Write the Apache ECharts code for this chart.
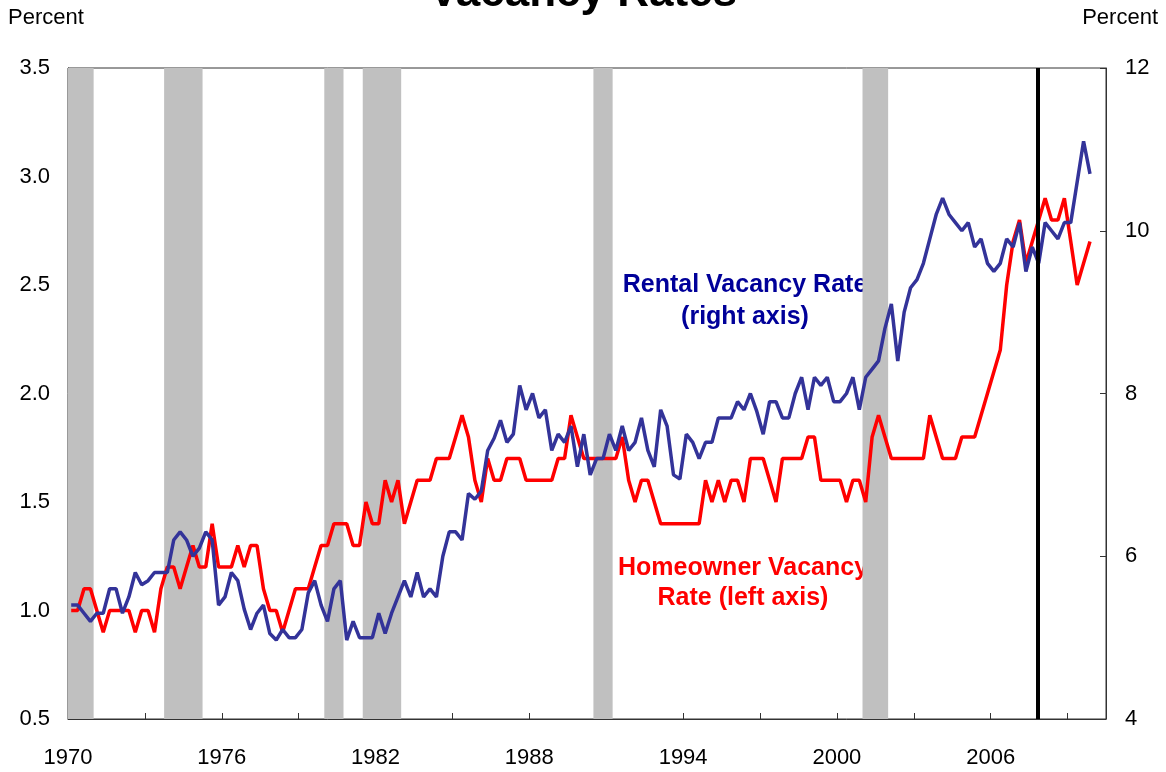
<!DOCTYPE html>
<html>
<head>
<meta charset="utf-8">
<script src="https://cdn.jsdelivr.net/npm/echarts@6/dist/echarts.min.js"></script>
<style>
  html, body { margin: 0; padding: 0; background: #fff; }
  #chart { width: 1166px; height: 772px; }
</style>
</head>
<body>
<div id="chart"></div>
<script>
// quarterly data, 1970Q1 .. 2009Q4
const startYear = 1970
const endYear = 2009

// homeowner vacancy rate, percent (left axis)
const homeownerRate = [
  1.0, 1.0, 1.1, 1.1, 1.0, 0.9, 1.0, 1.0, 1.0, 1.0,
  0.9, 1.0, 1.0, 0.9, 1.1, 1.2, 1.2, 1.1, 1.2, 1.3,
  1.2, 1.2, 1.4, 1.2, 1.2, 1.2, 1.3, 1.2, 1.3, 1.3,
  1.1, 1.0, 1.0, 0.9, 1.0, 1.1, 1.1, 1.1, 1.2, 1.3,
  1.3, 1.4, 1.4, 1.4, 1.3, 1.3, 1.5, 1.4, 1.4, 1.6,
  1.5, 1.6, 1.4, 1.5, 1.6, 1.6, 1.6, 1.7, 1.7, 1.7,
  1.8, 1.9, 1.8, 1.6, 1.5, 1.7, 1.6, 1.6, 1.7, 1.7,
  1.7, 1.6, 1.6, 1.6, 1.6, 1.6, 1.7, 1.7, 1.9, 1.8,
  1.7, 1.7, 1.7, 1.7, 1.7, 1.7, 1.8, 1.6, 1.5, 1.6,
  1.6, 1.5, 1.4, 1.4, 1.4, 1.4, 1.4, 1.4, 1.4, 1.6,
  1.5, 1.6, 1.5, 1.6, 1.6, 1.5, 1.7, 1.7, 1.7, 1.6,
  1.5, 1.7, 1.7, 1.7, 1.7, 1.8, 1.8, 1.6, 1.6, 1.6,
  1.6, 1.5, 1.6, 1.6, 1.5, 1.8, 1.9, 1.8, 1.7, 1.7,
  1.7, 1.7, 1.7, 1.7, 1.9, 1.8, 1.7, 1.7, 1.7, 1.8,
  1.8, 1.8, 1.9, 2.0, 2.1, 2.2, 2.5, 2.7, 2.8, 2.6,
  2.7, 2.8, 2.9, 2.8, 2.8, 2.9, 2.7, 2.5, 2.6, 2.7
]

// rental vacancy rate, percent (right axis)
const rentalRate = [
  5.4, 5.4, 5.3, 5.2, 5.3, 5.3, 5.6, 5.6, 5.3, 5.5,
  5.8, 5.65, 5.7, 5.8, 5.8, 5.8, 6.2, 6.3, 6.2, 6.0,
  6.1, 6.3, 6.2, 5.4, 5.5, 5.8, 5.7, 5.35, 5.1, 5.3,
  5.4, 5.05, 4.97, 5.1, 5.0, 5.0, 5.1, 5.55, 5.7, 5.4,
  5.2, 5.6, 5.7, 4.97, 5.2, 5.0, 5.0, 5.0, 5.3, 5.05,
  5.3, 5.5, 5.7, 5.5, 5.8, 5.5, 5.6, 5.5, 6.0, 6.3,
  6.3, 6.2, 6.77, 6.7, 6.8, 7.3, 7.45, 7.67, 7.4, 7.5,
  8.1, 7.8, 8.0, 7.7, 7.8, 7.3, 7.5, 7.4, 7.6, 7.1,
  7.5, 7.0, 7.2, 7.2, 7.5, 7.3, 7.6, 7.3, 7.4, 7.7,
  7.3, 7.1, 7.8, 7.6, 7.0, 6.95, 7.5, 7.4, 7.2, 7.4,
  7.4, 7.7, 7.7, 7.7, 7.9, 7.8, 8.0, 7.78, 7.5, 7.9,
  7.9, 7.7, 7.7, 8.0, 8.2, 7.8, 8.2, 8.1, 8.2, 7.9,
  7.9, 8.0, 8.2, 7.8, 8.2, 8.3, 8.4, 8.8, 9.1, 8.4,
  9.0, 9.3, 9.4, 9.6, 9.9, 10.2, 10.4, 10.2, 10.1, 10.0,
  10.1, 9.8, 9.9, 9.6, 9.5, 9.6, 9.9, 9.8, 10.1, 9.5,
  9.8, 9.6, 10.1, 10.0, 9.9, 10.1, 10.1, 10.6, 11.1, 10.7
]

// recessions (shaded), in fractional years
const recessions = [
  [1970.0, 1971.0],
  [1973.75, 1975.25],
  [1980.0, 1980.75],
  [1981.5, 1983.0],
  [1990.5, 1991.25],
  [2001.0, 2002.0]
]
const markerYear = 2007.83

const xTicks = { min: 1970, max: 2010.5, step: 3, labelStep: 6 }

// quarter -> x position in the middle of the quarter
let quarterX = []
for (let y = startYear; y <= endYear; y++) {
  for (let q = 1; q <= 4; q++) quarterX.push(y + (q - 0.5) / 4)
}

const font = 'Liberation Sans, Arial, sans-serif'
const axisColor = '#333'

let option = {
  animation: false,
  backgroundColor: '#fff',
  grid: {
    left: 68, right: 60, top: 68, bottom: 53,
    show: true, borderColor: axisColor, borderWidth: 1
  },
  xAxis: {
    type: 'value',
    min: xTicks.min, max: xTicks.max, interval: xTicks.step,
    axisLine: { lineStyle: { color: axisColor, width: 1 } },
    axisTick: { inside: true, length: 6, lineStyle: { color: axisColor } },
    splitLine: { show: false },
    axisLabel: {
      margin: 28, fontSize: 22, color: '#000', fontFamily: font,
      formatter: v => ((v - xTicks.min) % xTicks.labelStep === 0 ? String(v) : '')
    }
  },
  yAxis: [
    {
      type: 'value', position: 'left',
      min: 0.5, max: 3.5, interval: 0.5,
      axisLine: { show: true, lineStyle: { color: axisColor } },
      axisTick: { show: true, inside: true, length: 6, lineStyle: { color: axisColor } },
      splitLine: { show: false },
      axisLabel: { margin: 18, fontSize: 22, color: '#000', fontFamily: font, formatter: v => v.toFixed(1) }
    },
    {
      type: 'value', position: 'right',
      min: 4, max: 12, interval: 2,
      axisLine: { show: true, lineStyle: { color: axisColor } },
      axisTick: { show: true, inside: true, length: 6, lineStyle: { color: axisColor } },
      splitLine: { show: false },
      axisLabel: { margin: 19, fontSize: 22, color: '#000', fontFamily: font }
    }
  ],
  graphic: [
    { type: 'text', x: 583, y: -6, style: { text: 'Vacancy Rates', align: 'center', verticalAlign: 'middle', font: 'bold 44px ' + font, fill: '#000' } },
    { type: 'text', x: 8, y: 18, style: { text: 'Percent', align: 'left', verticalAlign: 'middle', font: '22px ' + font, fill: '#000' } },
    { type: 'text', x: 1158, y: 18, style: { text: 'Percent', align: 'right', verticalAlign: 'middle', font: '22px ' + font, fill: '#000' } },
    { type: 'text', x: 745, y: 285, style: { text: 'Rental Vacancy Rate', align: 'center', verticalAlign: 'middle', font: 'bold 25px ' + font, fill: '#000099' } },
    { type: 'text', x: 745, y: 317, style: { text: '(right axis)', align: 'center', verticalAlign: 'middle', font: 'bold 25px ' + font, fill: '#000099' } },
    { type: 'text', x: 743, y: 568, style: { text: 'Homeowner Vacancy', align: 'center', verticalAlign: 'middle', font: 'bold 25px ' + font, fill: '#ff0000' } },
    { type: 'text', x: 743, y: 598, style: { text: 'Rate (left axis)', align: 'center', verticalAlign: 'middle', font: 'bold 25px ' + font, fill: '#ff0000' } }
  ],
  series: [
    {
      name: 'Homeowner Vacancy Rate',
      type: 'line',
      yAxisIndex: 0,
      data: homeownerRate.map((v, i) => [quarterX[i], v]),
      symbol: 'none',
      lineStyle: { color: '#ff0000', width: 3.5 },
      z: 3,
      markArea: {
        silent: true,
        itemStyle: { color: '#c0c0c0' },
        data: recessions.map(r => [{ xAxis: r[0] }, { xAxis: r[1] }])
      }
    },
    {
      name: 'Rental Vacancy Rate',
      type: 'line',
      yAxisIndex: 1,
      data: rentalRate.map((v, i) => [quarterX[i], v]),
      symbol: 'none',
      lineStyle: { color: '#333399', width: 3.5 },
      z: 4,
      markLine: {
        silent: true,
        symbol: 'none',
        label: { show: false },
        lineStyle: { color: '#000', width: 4, type: 'solid' },
        data: [{ xAxis: markerYear }]
      }
    }
  ]
}

let chart = echarts.init(document.getElementById('chart'))
chart.setOption(option)
</script>
</body>
</html>
